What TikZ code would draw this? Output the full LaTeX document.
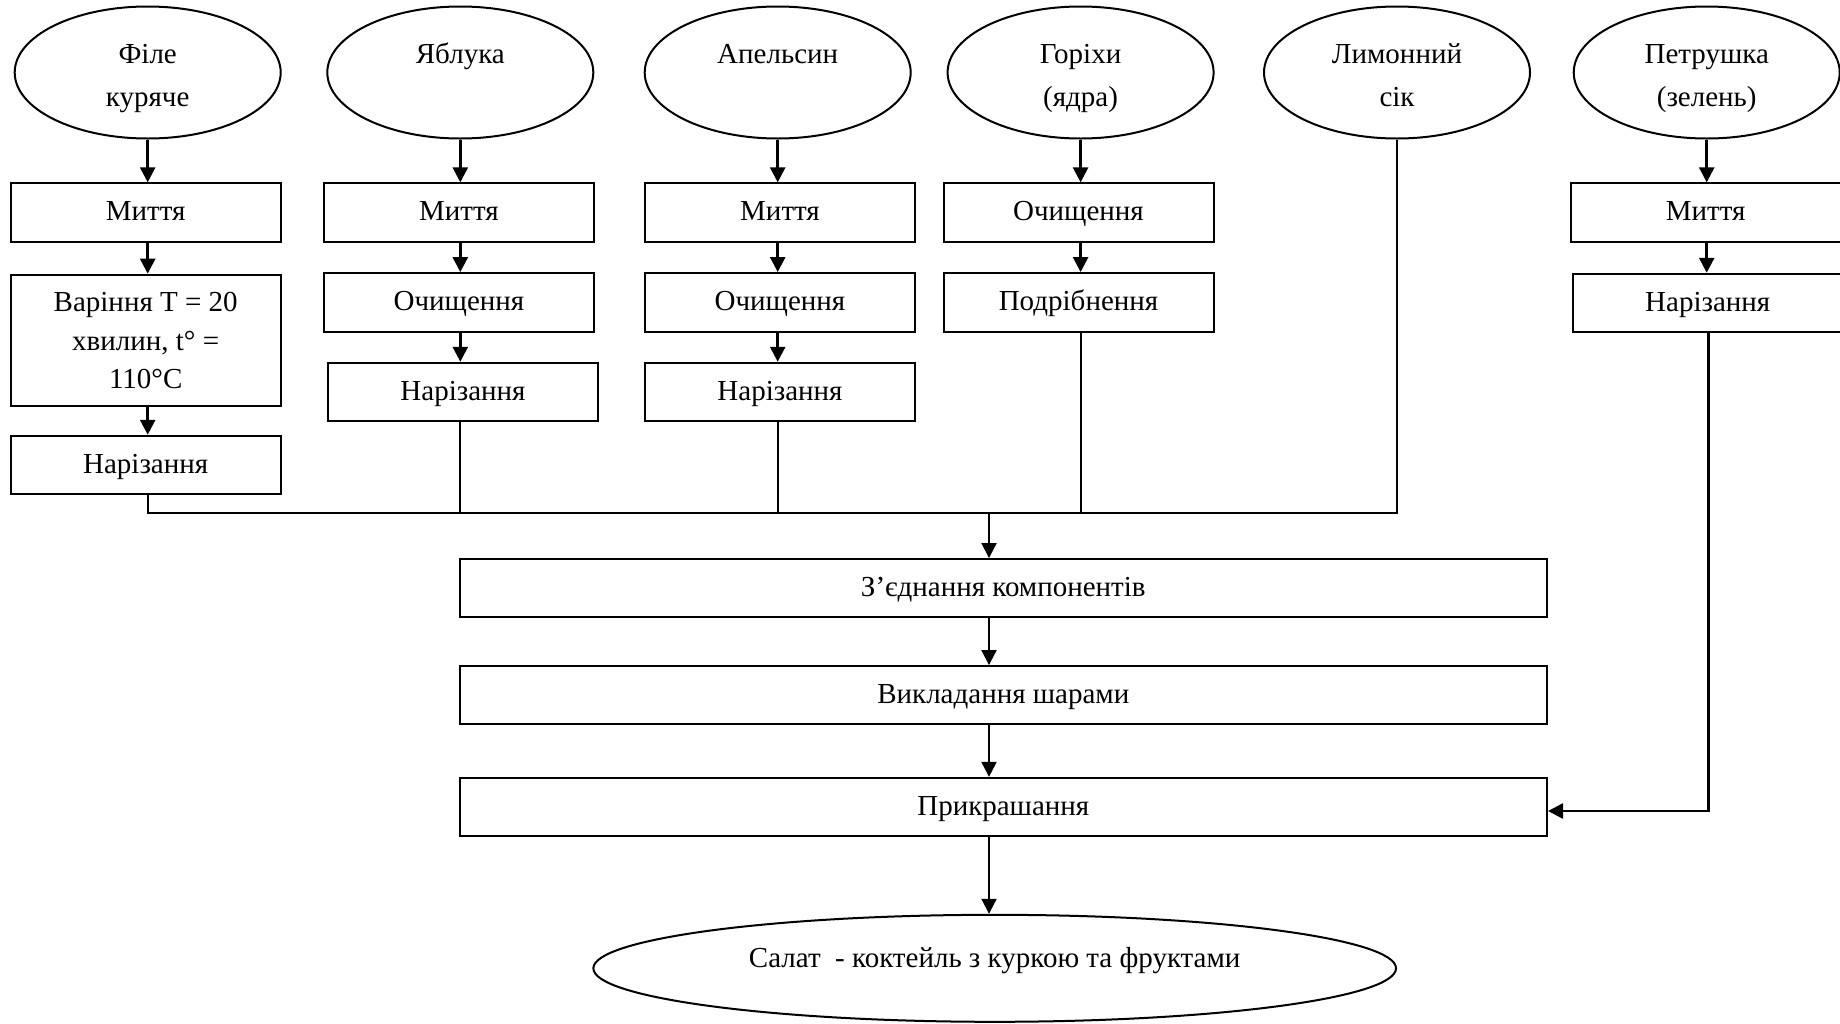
\documentclass[tikz,border=0pt]{standalone}
\usepackage{fontspec}
\setmainfont{Liberation Serif}
\usetikzlibrary{arrows.meta,shapes.geometric}

\begin{document}
\begin{tikzpicture}[x=0.5pt,y=-0.5pt,
  every node/.style={font=\fontsize{14.5}{21.5}\selectfont, inner sep=0pt, align=center},
  src/.style={draw, line width=1pt, ellipse, minimum width=133pt, minimum height=66pt},
  srctext/.style={anchor=north},
  stepbox/.style={draw, line width=1pt, rectangle, minimum width=135pt, minimum height=29.25pt,
    text height=10pt, text depth=2pt},
  widebox/.style={draw, line width=1pt, rectangle, minimum width=543.7pt, minimum height=29.15pt,
    text height=10pt, text depth=2pt},
  flow/.style={line width=1.3pt, -{Triangle[width=7.5pt,length=7.5pt]}},
  flowthin/.style={line width=1pt, -{Triangle[width=7.5pt,length=7.5pt]}},
  link/.style={line width=1pt}]
\useasboundingbox (0,0) rectangle (1840,1023);

% raw materials
\node[src] (e1) at (147.7,72.5) {};
\node[src] (e2) at (460.3,72.5) {};
\node[src] (e3) at (777.7,72.5) {};
\node[src] (e4) at (1080.6,72.5) {};
\node[src] (e5) at (1397,72.5) {};
\node[src] (e6) at (1706.7,72.5) {};
\node[srctext] (e1t) at (147.7,32.9) {\strut Філе\\куряче};
\node[srctext] (e2t) at (460.3,32.9) {\strut Яблука};
\node[srctext] (e3t) at (777.7,32.9) {\strut Апельсин};
\node[srctext] (e4t) at (1080.6,32.9) {\strut Горіхи\\(ядра)};
\node[srctext] (e5t) at (1397,32.9) {\strut Лимонний\\сік};
\node[srctext] (e6t) at (1706.7,32.9) {\strut Петрушка\\(зелень)};

% chicken fillet
\node[stepbox] (b11) at (145.7,212.6) {Миття};
\node[stepbox, minimum height=65.85pt, text height=, text depth=, font=\fontsize{14.5}{19.4}\selectfont] (b12) at (145.7,340.5) {Варіння T = 20\\хвилин, t° =\\110°C};
\node[stepbox] (b13) at (145.7,465) {Нарізання};

% apples
\node[stepbox] (b21) at (459,212.6) {Миття};
\node[stepbox] (b22) at (459,302.3) {Очищення};
\node[stepbox] (b23) at (463,392) {Нарізання};

% orange
\node[stepbox] (b31) at (780,212.6) {Миття};
\node[stepbox] (b32) at (780,302.3) {Очищення};
\node[stepbox] (b33) at (780,392) {Нарізання};

% nuts
\node[stepbox] (b41) at (1078.5,212.6) {Очищення};
\node[stepbox] (b42) at (1078.5,302.3) {Подрібнення};

% parsley
\node[stepbox] (b61) at (1705.7,212.6) {Миття};
\node[stepbox] (b62) at (1707.7,303) {Нарізання};

% assembly
\node[widebox] (comb) at (1003.3,588.2) {З’єднання компонентів};
\node[widebox] (layer) at (1003.3,695.2) {Викладання шарами};
\node[widebox] (decor) at (1003.3,807) {Прикрашання};
\node[draw, line width=1pt, ellipse, minimum width=401.35pt, minimum height=53.5pt] (fin) at (994.7,968.3) {};
\node[anchor=base] (fintext) at (994.7,967) {Салат\ \ - коктейль з куркою та фруктами};

% arrows inside the columns
\draw[flow] (e1.south) -- (e1.south |- b11.north);
\draw[flow] (e1.south |- b11.south) -- (e1.south |- b12.north);
\draw[flow] (e1.south |- b12.south) -- (e1.south |- b13.north);

\draw[flow] (e2.south) -- (e2.south |- b21.north);
\draw[flow] (e2.south |- b21.south) -- (e2.south |- b22.north);
\draw[flow] (e2.south |- b22.south) -- (e2.south |- b23.north);

\draw[flow] (e3.south) -- (e3.south |- b31.north);
\draw[flow] (e3.south |- b31.south) -- (e3.south |- b32.north);
\draw[flow] (e3.south |- b32.south) -- (e3.south |- b33.north);

\draw[flow] (e4.south) -- (e4.south |- b41.north);
\draw[flow] (e4.south |- b41.south) -- (e4.south |- b42.north);

\draw[flow] (e6.south) -- (e6.south |- b61.north);
\draw[flow] (e6.south |- b61.south) -- (e6.south |- b62.north);

% collecting line
\coordinate (jn) at (989,512.5);
\draw[link] (e1.south |- b13.south) |- (e5.south |- jn) -- (e5.south);
\draw[link] (e2.south |- b23.south) -- (e2.south |- jn);
\draw[link] (e3.south |- b33.south) -- (e3.south |- jn);
\draw[link] (e4.south |- b42.south) -- (e4.south |- jn);

% main flow
\draw[flowthin] (jn) -- (jn |- comb.north);
\draw[flowthin] (jn |- comb.south) -- (jn |- layer.north);
\draw[flowthin] (jn |- layer.south) -- (jn |- decor.north);
\draw[flowthin] (jn |- decor.south) -- (jn |- fin.north);

% parsley to decoration
\coordinate (pk) at (1708.7,811);
\draw[flow] (b62.south -| pk) -- (pk) -- (decor.east |- pk);
\end{tikzpicture}
\end{document}
